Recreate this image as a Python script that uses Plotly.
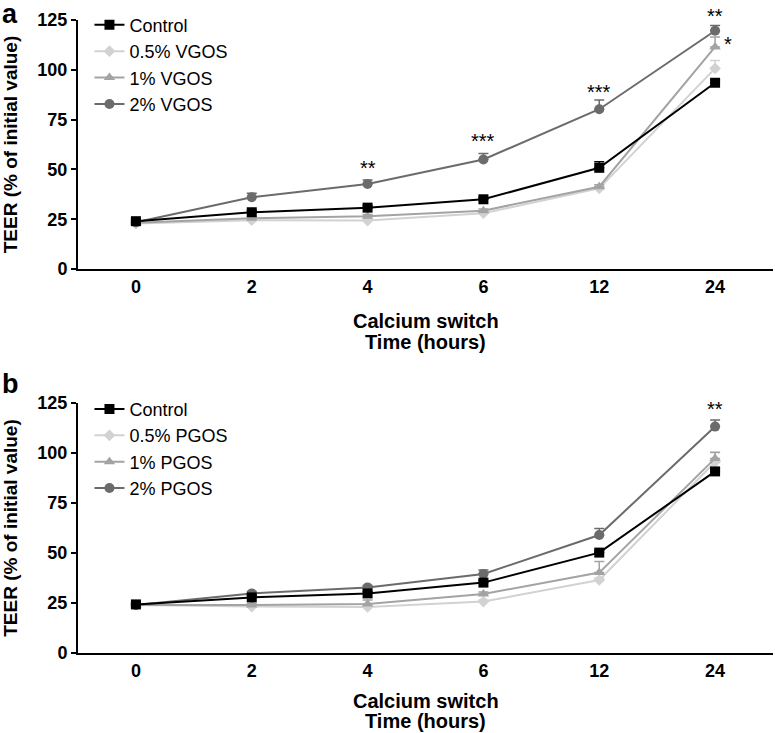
import plotly.graph_objects as go

time_labels = ["0", "2", "4", "6", "12", "24"]

# Panel a (VGOS)
a_names = ["Control", "0.5% VGOS", "1% VGOS", "2% VGOS"]
a_control = [24.0, 28.5, 30.8, 35.0, 50.8, 93.5]
a_control_err = [1.0, 1.0, 1.0, 1.0, 3.0, 1.5]
a_vgos05 = [22.8, 24.5, 24.3, 28.0, 40.5, 100.7]
a_vgos05_err = [0.8, 0.8, 0.8, 0.8, 1.0, 4.0]
a_vgos1 = [23.2, 25.5, 26.5, 29.3, 41.3, 111.5]
a_vgos1_err = [0.8, 0.8, 0.8, 0.8, 1.0, 5.0]
a_vgos2 = [23.5, 36.0, 42.7, 55.0, 80.2, 119.6]
a_vgos2_err = [1.0, 2.0, 2.0, 3.0, 4.6, 2.7]

# Panel b (PGOS)
b_names = ["Control", "0.5% PGOS", "1% PGOS", "2% PGOS"]
b_control = [24.3, 27.8, 29.8, 35.2, 50.2, 90.8]
b_control_err = [0.8, 1.0, 1.0, 1.0, 1.0, 1.5]
b_pgos05 = [24.0, 23.2, 23.0, 25.7, 36.5, 95.5]
b_pgos05_err = [0.8, 0.8, 0.8, 0.8, 1.0, 5.0]
b_pgos1 = [24.0, 24.0, 24.5, 29.5, 40.2, 97.3]
b_pgos1_err = [0.8, 0.8, 2.0, 1.0, 5.5, 3.0]
b_pgos2 = [24.0, 29.8, 32.8, 39.5, 59.0, 113.2]
b_pgos2_err = [0.8, 1.0, 1.0, 2.0, 3.3, 3.3]

# significance marks
a_sig_x = [2, 3, 4, 5]
a_sig_y = [50.5, 64.5, 89.0, 113.0]
a_sig_text = ["**", "***", "***", "*"]
a_sig_dx = [0, 0, 0, 13]
a_top_sig_x = [5]
a_top_sig_text = ["**"]
b_sig_x = [5]
b_sig_y = [122.0]
b_sig_text = ["**"]

x_title_1 = "Calcium switch"
x_title_2 = "Time (hours)"
y_title = "TEER (% of initial value)"

colors = ["#000000", "#d2d2d2", "#a3a3a3", "#6b6b6b"]
symbols = ["square", "diamond", "triangle-up", "circle"]
msizes = [10, 9, 10, 10]

FONT = "Arial, Liberation Sans, sans-serif"
xs = list(range(len(time_labels)))
H = 733.0

def py(p):
    return 1 - p / H

fig = go.Figure()

a_series = [(a_control, a_control_err), (a_vgos05, a_vgos05_err), (a_vgos1, a_vgos1_err), (a_vgos2, a_vgos2_err)]
b_series = [(b_control, b_control_err), (b_pgos05, b_pgos05_err), (b_pgos1, b_pgos1_err), (b_pgos2, b_pgos2_err)]

order = [1, 2, 3, 0]  # draw control on top
for names, series, xa, ya, leg in [(a_names, a_series, "x", "y", "legend"),
                                   (b_names, b_series, "x2", "y2", "legend2")]:
    for i in order:
        vals, err = series[i]
        fig.add_trace(go.Scatter(
            x=xs, y=vals, name=names[i], mode="lines+markers",
            xaxis=xa, yaxis=ya, legend=leg, legendrank=i + 1,
            line=dict(color=colors[i], width=2),
            marker=dict(symbol=symbols[i], size=msizes[i], color=colors[i]),
            error_y=dict(type="data", symmetric=False, array=err,
                         arrayminus=[0] * len(err), color=colors[i], thickness=1.5, width=5),
            cliponaxis=False,
        ))

annotations = []
sig_font = dict(family=FONT, size=20, color="#000000")
for x, y, t, dx in zip(a_sig_x, a_sig_y, a_sig_text, a_sig_dx):
    annotations.append(dict(x=x, y=y, xref="x", yref="y", text=t, showarrow=False, xshift=dx,
                            xanchor="center", yanchor="middle", font=sig_font))
for x, t in zip(a_top_sig_x, a_top_sig_text):
    annotations.append(dict(x=x, y=py(16), xref="x", yref="paper", text=t,
                            xanchor="center", yanchor="middle", showarrow=False, font=sig_font))
for x, y, t in zip(b_sig_x, b_sig_y, b_sig_text):
    annotations.append(dict(x=x, y=y, xref="x2", yref="y2", text=t, showarrow=False,
                            xanchor="center", yanchor="middle", font=sig_font))

# panel letters
annotations.append(dict(x=-0.112, y=py(14), xref="paper", yref="paper", text="<b>a</b>", showarrow=False,
                        xanchor="left", yanchor="middle", font=dict(family=FONT, size=27, color="#000")))
annotations.append(dict(x=-0.112, y=py(384), xref="paper", yref="paper", text="<b>b</b>", showarrow=False,
                        xanchor="left", yanchor="middle", font=dict(family=FONT, size=27, color="#000")))

# x axis titles (two lines each)
title_font = dict(family=FONT, size=20, color="#000")
for p1, p2 in [(321, 342), (701, 721)]:
    annotations.append(dict(x=0.5, y=py(p1), xref="paper", yref="paper", text="<b>%s</b>" % x_title_1,
                            showarrow=False, xanchor="center", yanchor="middle", font=title_font))
    annotations.append(dict(x=0.5, y=py(p2), xref="paper", yref="paper", text="<b>%s</b>" % x_title_2,
                            showarrow=False, xanchor="center", yanchor="middle", font=title_font))

tick_font = dict(family=FONT, size=18, color="#000", weight="bold")

xaxis_common = dict(
    range=[-0.5, 5.5], tickmode="array", tickvals=xs, ticktext=time_labels,
    showline=True, linecolor="#000", linewidth=2, ticks="", showgrid=False, zeroline=False,
    tickfont=tick_font, automargin=False,
)
yaxis_common = dict(
    range=[0, 125], tickvals=[0, 25, 50, 75, 100, 125],
    showline=True, linecolor="#000", linewidth=2, ticks="outside", ticklen=5, tickwidth=2,
    tickcolor="#000", showgrid=False, zeroline=False,
    tickfont=tick_font, automargin=False,
    title=dict(text="<b>%s</b>" % y_title, font=dict(family=FONT, size=19, color="#000"), standoff=19),
)

legend_common = dict(
    font=dict(family=FONT, size=18, color="#000"), bgcolor="rgba(0,0,0,0)",
    xanchor="left", yanchor="top", tracegroupgap=0, itemwidth=30,
)

fig.update_layout(
    width=775, height=733,
    margin=dict(l=78, r=2, t=0, b=0),
    plot_bgcolor="white", paper_bgcolor="white",
    xaxis=dict(domain=[0, 1], anchor="y", **xaxis_common),
    yaxis=dict(domain=[py(269), py(20)], anchor="x", **yaxis_common),
    xaxis2=dict(domain=[0, 1], anchor="y2", **xaxis_common),
    yaxis2=dict(domain=[py(653), py(403)], anchor="x2", **yaxis_common),
    legend=dict(x=0.0165, y=0.991, **legend_common),
    legend2=dict(x=0.0165, y=0.467, **legend_common),
    annotations=annotations,
    showlegend=True,
    hovermode=False,
)

fig.write_html("out.html", config={"displayModeBar": False},
               post_script="document.body.style.margin='0px';")
